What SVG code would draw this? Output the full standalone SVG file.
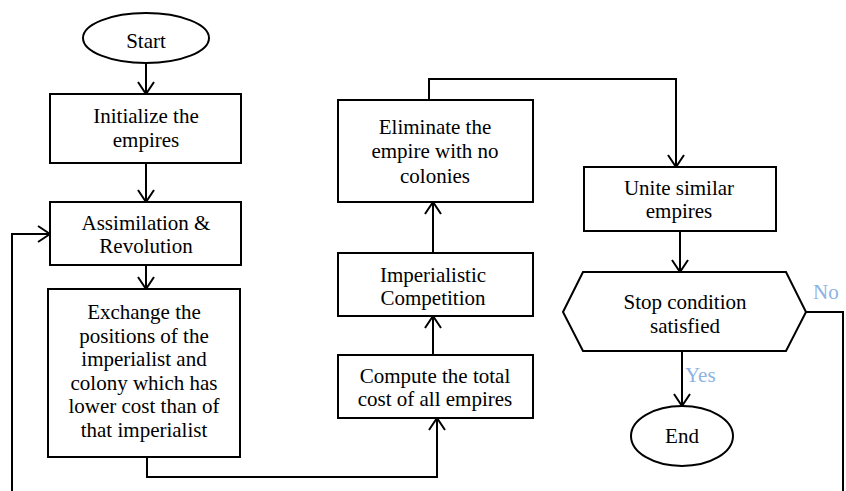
<svg xmlns="http://www.w3.org/2000/svg" width="846" height="491" viewBox="0 0 846 491">
<style>
.box{fill:#fff;stroke:#000;stroke-width:2}
.t{font-family:"Liberation Serif","Times New Roman",serif;font-size:21px;fill:#000;text-anchor:middle}
.lbl{font-family:"Liberation Serif","Times New Roman",serif;font-size:21px;fill:#8DB3E2}
.c{fill:none;stroke:#000;stroke-width:2}
</style>
<defs>
<marker id="arr" markerUnits="userSpaceOnUse" viewBox="0 0 14 18" refX="13" refY="9" markerWidth="14" markerHeight="18" orient="auto">
<path d="M1,1 L13,9 L1,17" fill="none" stroke="#000" stroke-width="2"/>
</marker>
</defs>
<rect width="846" height="491" fill="#fff"/>
<g id="connectors">
<path class="c" d="M146,63 V94" marker-end="url(#arr)"/>
<path class="c" d="M146,163 V202" marker-end="url(#arr)"/>
<path class="c" d="M146,265 V289" marker-end="url(#arr)"/>
<path class="c" d="M147,457 V477 H437 V418" marker-end="url(#arr)"/>
<path class="c" d="M433,355 V316" marker-end="url(#arr)"/>
<path class="c" d="M433,253 V202" marker-end="url(#arr)"/>
<path class="c" d="M429,100 V79 H676 V167" marker-end="url(#arr)"/>
<path class="c" d="M680,231 V272" marker-end="url(#arr)"/>
<path class="c" d="M682,351 V406" marker-end="url(#arr)"/>
<path class="c" d="M806,312 H843 V491"/>
<path class="c" d="M12,491 V234 H50" marker-end="url(#arr)"/>
<text class="lbl" x="813" y="299">No</text>
<text class="lbl" x="685" y="382">Yes</text>
</g>
<g id="start">
<ellipse class="box" cx="146" cy="38" rx="63" ry="25"/>
<text class="t" x="146" y="48">Start</text>
</g>
<g id="init">
<rect class="box" x="50" y="94" width="191" height="69"/>
<text class="t" x="146" y="123">Initialize the</text>
<text class="t" x="146" y="147">empires</text>
</g>
<g id="assim">
<rect class="box" x="50" y="202" width="191" height="63"/>
<text class="t" x="146" y="230">Assimilation &amp;</text>
<text class="t" x="146" y="253">Revolution</text>
</g>
<g id="exchange">
<rect class="box" x="48" y="289" width="192" height="168"/>
<text class="t" x="144" y="319">Exchange the</text>
<text class="t" x="144" y="343">positions of the</text>
<text class="t" x="144" y="366">imperialist and</text>
<text class="t" x="144" y="390">colony which has</text>
<text class="t" x="144" y="413">lower cost than of</text>
<text class="t" x="144" y="437">that imperialist</text>
</g>
<g id="compute">
<rect class="box" x="338" y="355" width="195" height="63"/>
<text class="t" x="435" y="383">Compute the total</text>
<text class="t" x="435" y="406">cost of all empires</text>
</g>
<g id="competition">
<rect class="box" x="338" y="253" width="195" height="63"/>
<text class="t" x="433" y="282">Imperialistic</text>
<text class="t" x="433" y="305">Competition</text>
</g>
<g id="eliminate">
<rect class="box" x="338" y="100" width="195" height="102"/>
<text class="t" x="435" y="134">Eliminate the</text>
<text class="t" x="435" y="158">empire with no</text>
<text class="t" x="435" y="183">colonies</text>
</g>
<g id="unite">
<rect class="box" x="584" y="167" width="192" height="64"/>
<text class="t" x="679" y="195">Unite similar</text>
<text class="t" x="679" y="218">empires</text>
</g>
<g id="stop">
<polygon class="box" points="563,312 583,272 786,272 806,312 786,351 583,351"/>
<text class="t" x="685" y="309">Stop condition</text>
<text class="t" x="685" y="333">satisfied</text>
</g>
<g id="end">
<ellipse class="box" cx="682" cy="436" rx="51" ry="30"/>
<text class="t" x="682" y="443">End</text>
</g>
</svg>
